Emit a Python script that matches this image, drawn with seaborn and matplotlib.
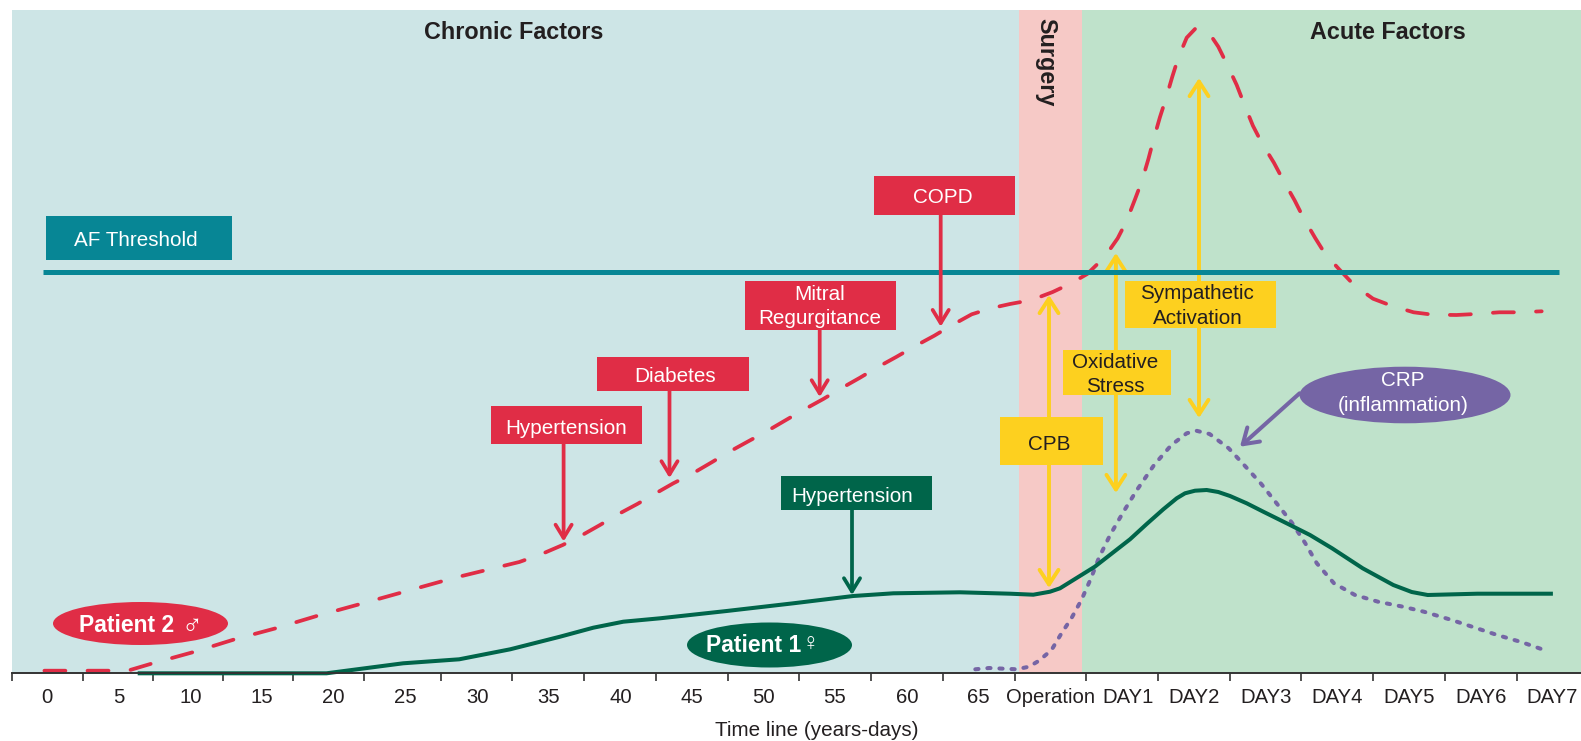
import matplotlib
matplotlib.use("Agg")
import matplotlib.pyplot as plt
from matplotlib.patches import Rectangle, Ellipse
import seaborn as sns

# Schematic chart: x = position along the time line, y = risk level above the base line (arbitrary units)
tick_positions = [0, 70.9, 140.8, 211.3, 281.3, 352.3, 429.3, 500.3, 572.3, 644.3, 716.3, 787.3,
                  859.3, 931.3, 1003.3, 1074.3, 1146.3, 1218.3, 1289.3, 1361.3, 1433.3, 1505.3]
label_positions = [35, 106.7, 178.6, 250.6, 321.5, 394, 465.4, 536.8, 608.7, 680.6, 752, 823.2,
                   895.4, 966.6, 1038.8, 1116, 1182.7, 1254, 1325.6, 1397, 1469, 1540.3]
tick_labels = ["0", "5", "10", "15", "20", "25", "30", "35", "40", "45", "50", "55", "60", "65",
               "Operation", "DAY1", "DAY2", "DAY3", "DAY4", "DAY5", "DAY6", "DAY7"]

patient2_x = [32.7, 116, 141, 182, 223, 264, 305, 345, 442, 507.6, 530, 551, 567.6, 588.3, 605, 625.6,
              642.3, 661.6, 680, 700, 716.6, 736.6, 754.3, 774.3, 791.6, 811.6, 828.3, 848.3, 865, 885,
              902.3, 922.6, 939.3, 960, 979, 998.3, 1020, 1041, 1059.4, 1075.5, 1092.7, 1106, 1115,
              1123.3, 1130.2, 1136.7, 1141.7, 1148.2, 1154.3, 1160.6, 1166.6, 1175, 1183.3, 1191.6,
              1198.3, 1206.6, 1215.6, 1225, 1232.4, 1241.2, 1250.3, 1262.2, 1271.4, 1282.9, 1291.7,
              1303.5, 1313.5, 1326.9, 1342.6, 1361.3, 1379.7, 1401.9, 1421, 1444.8, 1463.9, 1487.6,
              1506, 1530]
patient2_y = [2.3, 2.3, 9.7, 21, 33.7, 44.7, 57, 68, 95, 111, 119, 128, 136.3, 148, 158, 169,
              178.7, 189.7, 199, 210.7, 220.7, 231.7, 241.3, 253, 263, 274, 284, 295.3, 305.3, 316.3,
              326.3, 337.3, 347.3, 358.7, 364.7, 369, 373, 381, 389.7, 399, 415.7, 434.7, 452.3,
              473.7, 492, 514, 533, 555.7, 574.7, 596.3, 615.3, 635.3, 644, 643.7,
              638.7, 626.3, 608, 588, 569, 547.3, 529.7, 510.3, 493, 472.7, 455.3,
              435, 419, 404.3, 387.7, 374.3, 367.3, 360.7, 358.3, 358, 359, 360.7,
              360.7, 361.7]

patient1_x = [126, 314.8, 345.4, 391.4, 447.5, 498.5, 548.3, 581.6, 611.6, 648.3, 715, 781.6, 841.6,
              881.6, 948.3, 998.3, 1021.6, 1038.3, 1048.3, 1083.1, 1118.3, 1135, 1151.6, 1165, 1173.3,
              1183.3, 1195, 1206.6, 1218.3, 1235, 1251.6, 1275, 1298.3, 1320.4, 1351, 1381.6, 1400,
              1416, 1465.8, 1541.2]
patient1_y = [-0.3, -0.3, 3.7, 9.7, 13.7, 23.7, 36.3, 45.3, 51.3, 54.7, 62, 69.7, 77,
              79.7, 80.7, 79.3, 78.3, 81.3, 84.7, 106.3, 133.7, 149, 163.7, 174.7, 179.7,
              182.3, 183, 181, 177, 169.7, 161.3, 149.7, 138, 124.7, 104.7, 88, 81,
              78, 79.3, 79.3]

crp_x = [963.6, 977.5, 1004.9, 1017.4, 1027.3, 1039.8, 1049.8, 1059.7, 1069.7, 1079.3, 1087, 1098.4,
         1111.8, 1125.2, 1142.4, 1159.7, 1175, 1184.5, 1197.9, 1217, 1232.4, 1249.6, 1264.9, 1280.2,
         1293.6, 1305.1, 1322.3, 1343.3, 1366.3, 1391.2, 1412.2, 1440, 1485.5, 1510.4, 1535.3]
crp_y = [3.7, 5, 3.7, 6.3, 12.3, 23, 39.7, 54.7, 73, 94.7, 114.7, 138,
         161.3, 183, 208, 228, 239.7, 242.3, 239, 224.7, 208, 189, 169.7, 150.3,
         129.7, 109.7, 89.7, 78, 71.3, 66.3, 61.3, 53, 38, 30.7, 22]

threshold_x = [31.3, 1547.3]
threshold_y = [401.5, 401.5]

phase_edges = [0, 1007.3, 1070.3, 1569.3]
phase_colors = ["#CDE5E6", "#F6C9C6", "#BFE2CB"]
phase_top = 663

RED, GREEN, YEL, PURP, TEAL = "#E02D46", "#00654A", "#FDD01F", "#7565A5", "#078695"
INK = "#231F20"

sns.set_theme(style="white")
FONT = ["Liberation Sans", "DejaVu Sans"]
plt.rcParams["font.family"] = FONT
plt.rcParams["text.color"] = INK

fig = plt.figure(figsize=(15.81, 7.41), dpi=100, facecolor="white")
ax = fig.add_axes([0, 0, 1, 1])
ax.set_xlim(-11.7, 1569.3)
ax.set_ylim(-68, 673)
ax.patch.set_alpha(0)

for x0, x1, c in zip(phase_edges[:-1], phase_edges[1:], phase_colors):
    ax.add_patch(Rectangle((x0, 0), x1 - x0, phase_top, fc=c, ec="none", zorder=0))


def curve(x, y, color, lw, dash, z):
    sns.lineplot(x=x, y=y, ax=ax, sort=False, estimator=None, errorbar=None,
                 color=color, linewidth=lw, legend=False, zorder=z)
    ln = ax.lines[-1]
    if dash:
        ln.set_linestyle((0, dash))
        ln.set_dash_capstyle("round")
    else:
        ln.set_solid_capstyle("butt")
    ln.set_solid_joinstyle("round")
    ln.set_dash_joinstyle("round")


def arrow(x0, y0, x1, y1, color, lw, style, z, hl=0.95, hw=0.58):
    ax.annotate("", xy=(x1, y1), xytext=(x0, y0), zorder=z,
                arrowprops=dict(arrowstyle=f"{style},head_length={hl},head_width={hw}", color=color,
                                lw=lw, shrinkA=0, shrinkB=0, mutation_scale=10))


def box(x0, x1, y0, y1, color, z=6):
    ax.add_patch(Rectangle((x0, y0), x1 - x0, y1 - y0, fc=color, ec="none", zorder=z))


def label(x, y, s, color="white", size=14.9, weight="normal", **kw):
    ax.text(x, y - 2, s, color=color, fontsize=size, fontweight=weight, ha="center", va="center",
            family=FONT, linespacing=1.38, zorder=8, **kw)


# yellow double arrows sit below the threshold line and their boxes
arrow(1037.3, 85, 1037.3, 378, YEL, 2.8, "<->", 3, 1.05, 0.68)
arrow(1104.2, 180, 1104.2, 420, YEL, 2.8, "<->", 3, 1.05, 0.68)
arrow(1187.3, 255, 1187.3, 595, YEL, 2.8, "<->", 3, 1.05, 0.68)

curve(patient2_x, patient2_y, RED, 2.7, (5.6, 5.9), 2)
curve(crp_x, crp_y, PURP, 2.9, (0.8, 2.2), 2.5)
curve(patient1_x, patient1_y, GREEN, 2.9, None, 2.7)
curve(threshold_x, threshold_y, TEAL, 3.6, None, 4)

# risk-factor arrows
arrow(551.9, 229.3, 551.9, 131.5, RED, 2.7, "->", 5)
arrow(657.8, 282, 657.8, 195, RED, 2.7, "->", 5)
arrow(808, 343, 808, 276, RED, 2.7, "->", 5)
arrow(929, 458, 929, 346.3, RED, 2.7, "->", 5)
arrow(840.3, 163, 840.3, 78, GREEN, 2.7, "->", 5)
arrow(1287.9, 279.7, 1228.3, 226.3, PURP, 2.9, "->", 5, 1.05, 0.68)

# boxes and ellipses
box(34.7, 220.2, 413, 457, TEAL)
box(479.3, 630.6, 229.3, 266.6, RED)
box(585.3, 737.3, 282, 316, RED)
box(733.3, 884.7, 343, 392, RED)
box(862.3, 1003.1, 458, 497, RED)
box(769.7, 920, 163, 197, GREEN)
box(988.3, 1091.1, 208, 255.7, YEL)
box(1051.3, 1159.3, 278, 323, YEL)
box(1113.3, 1264.1, 345.3, 392, YEL)
ax.add_patch(Ellipse((128.8, 49.5), 175, 43, fc=RED, ec="none", zorder=6))
ax.add_patch(Ellipse((757.8, 28), 165, 45, fc=GREEN, ec="none", zorder=6))
ax.add_patch(Ellipse((1393.3, 278), 211, 56.6, fc=PURP, ec="none", zorder=6))

label(124.6, 434, "AF Threshold")
label(554, 246.5, "Hypertension")
label(663, 298, "Diabetes")
label(808, 368.5, "Mitral\nRegurgitance")
label(931, 477.4, "COPD")
label(840, 179, "Hypertension")
label(1037.8, 231, "CPB", color=INK)
label(1103.4, 300.5, "Oxidative\nStress", color=INK)
label(1185.7, 369, "Sympathetic\nActivation", color=INK)
label(1391, 282, "CRP\n(inflammation)")
label(114.8, 50, "Patient 2", size=16.5, weight="bold")
label(180.3, 48, "♂", size=20)
label(742, 30, "Patient 1", size=16.5, weight="bold")
label(799, 30, "♀", size=17)
label(501.5, 642.5, "Chronic Factors", color=INK, size=16.8, weight="bold")
label(1375.8, 642.5, "Acute Factors", color=INK, size=16.8, weight="bold")
label(1034.5, 613, "Surgery", color=INK, size=16.8, weight="bold", rotation=-90)

# time-line axis
for name in ["top", "left", "right"]:
    ax.spines[name].set_visible(False)
ax.spines["bottom"].set_position(("data", 0))
ax.spines["bottom"].set_bounds(0, 1569.3)
ax.spines["bottom"].set_color("#333333")
ax.spines["bottom"].set_linewidth(1.4)
ax.spines["bottom"].set_zorder(2.9)
ax.set_yticks([])
ax.set_xticks(tick_positions, [""] * len(tick_positions))
ax.set_xticks(label_positions, tick_labels, minor=True)
ax.tick_params(axis="x", which="major", bottom=True, length=6, width=1.2, color="#333333")
ax.tick_params(axis="x", which="minor", bottom=False, length=0, pad=10.5, labelsize=14.6, labelcolor=INK)
ax.set_xlabel("Time line (years-days)", fontsize=14.9, color=INK, va="center", labelpad=0)
ax.xaxis.set_label_coords(0.5166, 0.0135)

fig.savefig("out.png", dpi=100, facecolor="white")
